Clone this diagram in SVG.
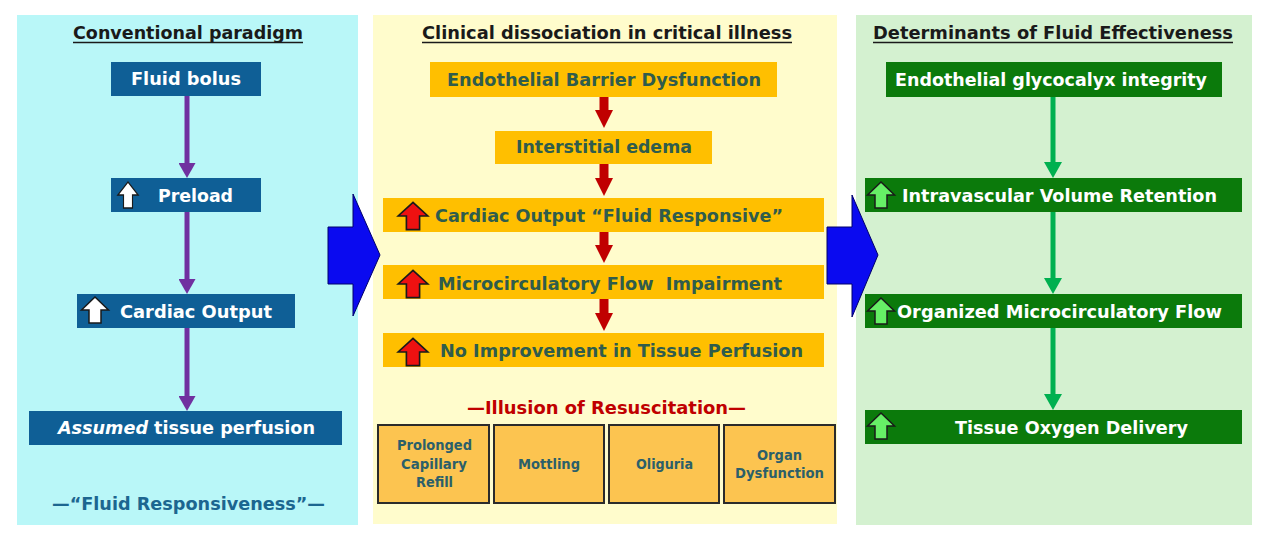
<svg xmlns="http://www.w3.org/2000/svg" xmlns:xlink="http://www.w3.org/1999/xlink" width="1280" height="543" viewBox="0 0 1280 543">
<style>
text{font-family:"DejaVu Sans","Liberation Sans",sans-serif;font-weight:bold;}
.title{font-size:17.5px;fill:#1a1a1a;text-anchor:middle;}
.ul{stroke:#1a1a1a;stroke-width:1.5;}
.nt{font-size:17.5px;fill:#ffffff;text-anchor:middle;}
.ot{font-size:17.5px;fill:#2f5c4c;text-anchor:middle;}
.bt{font-size:13.5px;fill:#2b5f6a;text-anchor:middle;}
.blue{fill:#0f5f96;}
.orange{fill:#ffbf00;}
.green{fill:#0b7a0b;}
.sbox{fill:#fcc450;stroke:#2b2b2b;stroke-width:2;}
.ic{stroke:#1a1a1a;stroke-width:1.5;stroke-linejoin:miter;}
.icw{fill:#ffffff;}
.icr{fill:#ee1111;}
.icg{fill:#66f066;}
.big{fill:#0a0af0;stroke:#00006a;stroke-width:1;}
.cp{stroke:#7030a0;stroke-width:5;fill:none;}
.cr{stroke:#c00000;stroke-width:9;fill:none;}
.cg{stroke:#00b050;stroke-width:5;fill:none;}
</style>
<defs>
<path id="up" d="M0,-13 L13.5,0 L6,0 L6,13 L-6,13 L-6,0 L-13.5,0 Z"/>
<marker id="mp" viewBox="0 0 15 17" markerWidth="15" markerHeight="17" refX="3" refY="8.5" orient="auto" markerUnits="userSpaceOnUse"><path d="M0,0 L15,8.5 L0,17 Z" fill="#7030a0"/></marker>
<marker id="mr" viewBox="0 0 18 18" markerWidth="18" markerHeight="18" refX="3" refY="9" orient="auto" markerUnits="userSpaceOnUse"><path d="M0,0 L18,9 L0,18 Z" fill="#c00000"/></marker>
<marker id="mg" viewBox="0 0 16 18" markerWidth="16" markerHeight="18" refX="3" refY="9" orient="auto" markerUnits="userSpaceOnUse"><path d="M0,0 L16,9 L0,18 Z" fill="#00b050"/></marker>
</defs>
<rect width="1280" height="543" fill="#ffffff"/>

<g id="panels">
<rect x="17" y="15" width="341" height="510" fill="#b9f7f8"/>
<rect x="373" y="15" width="464" height="509" fill="#fffccc"/>
<rect x="856" y="15" width="396" height="510" fill="#d4f1d0"/>
</g>

<g id="titles">
<text class="title" x="188" y="38.5" textLength="230" lengthAdjust="spacingAndGlyphs">Conventional paradigm</text>
<line class="ul" x1="73" y1="42.5" x2="303" y2="42.5"/>
<text class="title" x="607" y="38.5" textLength="370" lengthAdjust="spacingAndGlyphs">Clinical dissociation in critical illness</text>
<line class="ul" x1="422" y1="42.5" x2="792" y2="42.5"/>
<text class="title" x="1053" y="38.5" textLength="360" lengthAdjust="spacingAndGlyphs">Determinants of Fluid Effectiveness</text>
<line class="ul" x1="873" y1="42.5" x2="1233" y2="42.5"/>
</g>

<g id="bigArrows">
<path class="big" d="M328,227 L353,227 L353,194 L380,255 L353,316 L353,284 L328,284 Z"/>
<path class="big" d="M827,227 L852,227 L852,195 L878,255 L852,317 L852,284 L827,284 Z"/>
</g>

<g id="connectors">
<line class="cp" x1="187" y1="96" x2="187" y2="166" marker-end="url(#mp)"/>
<line class="cp" x1="187" y1="212" x2="187" y2="282" marker-end="url(#mp)"/>
<line class="cp" x1="187" y1="328" x2="187" y2="399" marker-end="url(#mp)"/>
<line class="cr" x1="604" y1="97" x2="604" y2="113" marker-end="url(#mr)"/>
<line class="cr" x1="604" y1="164" x2="604" y2="181" marker-end="url(#mr)"/>
<line class="cr" x1="604" y1="232" x2="604" y2="248" marker-end="url(#mr)"/>
<line class="cr" x1="604" y1="299" x2="604" y2="316" marker-end="url(#mr)"/>
<line class="cg" x1="1053" y1="97" x2="1053" y2="165" marker-end="url(#mg)"/>
<line class="cg" x1="1053" y1="212" x2="1053" y2="281" marker-end="url(#mg)"/>
<line class="cg" x1="1053" y1="328" x2="1053" y2="397" marker-end="url(#mg)"/>
</g>

<g id="n-fluid-bolus">
<rect class="blue" x="111" y="62" width="150" height="34"/>
<text class="nt" x="186" y="85" textLength="110" lengthAdjust="spacingAndGlyphs">Fluid bolus</text>
</g>
<g id="n-preload">
<rect class="blue" x="111" y="178" width="150" height="34"/>
<use href="#up" class="ic icw" transform="translate(128,195) scale(0.75,1)"/>
<text class="nt" x="195.5" y="202" textLength="75" lengthAdjust="spacingAndGlyphs">Preload</text>
</g>
<g id="n-cardiac-output">
<rect class="blue" x="77" y="294" width="218" height="34"/>
<use href="#up" class="ic icw" transform="translate(95,310)"/>
<text class="nt" x="196" y="318" textLength="152" lengthAdjust="spacingAndGlyphs">Cardiac Output</text>
</g>
<g id="n-assumed">
<rect class="blue" x="29" y="411" width="313" height="34"/>
<text class="nt" x="58" y="433.5" style="font-style:italic;text-anchor:start" textLength="90" lengthAdjust="spacingAndGlyphs">Assumed</text>
<text class="nt" x="154" y="433.5" style="text-anchor:start" textLength="161" lengthAdjust="spacingAndGlyphs">tissue perfusion</text>
</g>
<g id="n-fluid-responsiveness">
<text x="188.5" y="510" style="font-size:17.5px;fill:#1c6690;text-anchor:middle" textLength="273" lengthAdjust="spacingAndGlyphs">—“Fluid Responsiveness”—</text>
</g>

<g id="n-endothelial-barrier">
<rect class="orange" x="430" y="62" width="347" height="35"/>
<text class="ot" x="604" y="86" textLength="314" lengthAdjust="spacingAndGlyphs">Endothelial Barrier Dysfunction</text>
</g>
<g id="n-interstitial">
<rect class="orange" x="495" y="131" width="217" height="33"/>
<text class="ot" x="604" y="153" textLength="176" lengthAdjust="spacingAndGlyphs">Interstitial edema</text>
</g>
<g id="n-co-responsive">
<rect class="orange" x="383" y="198" width="441" height="34"/>
<use href="#up" class="ic icr" transform="translate(413,216) scale(1.1,1.05)"/>
<text class="ot" x="609" y="222" textLength="348" lengthAdjust="spacingAndGlyphs">Cardiac Output “Fluid Responsive”</text>
</g>
<g id="n-micro-impairment">
<rect class="orange" x="383" y="265" width="441" height="34"/>
<use href="#up" class="ic icr" transform="translate(413,284) scale(1.1,1.05)"/>
<text class="ot" x="610" y="290" textLength="344" lengthAdjust="spacingAndGlyphs">Microcirculatory Flow&#160; Impairment</text>
</g>
<g id="n-no-improvement">
<rect class="orange" x="383" y="333" width="441" height="34"/>
<use href="#up" class="ic icr" transform="translate(413,352) scale(1.1,1.05)"/>
<text class="ot" x="621.5" y="357" textLength="363" lengthAdjust="spacingAndGlyphs">No Improvement in Tissue Perfusion</text>
</g>
<g id="n-illusion">
<text x="606.5" y="414" style="font-size:17.5px;fill:#c00000;text-anchor:middle" textLength="279" lengthAdjust="spacingAndGlyphs">—Illusion of Resuscitation—</text>
</g>
<g id="n-prolonged">
<rect class="sbox" x="378" y="425" width="111" height="78"/>
<text class="bt" x="434.5" y="450" textLength="75" lengthAdjust="spacingAndGlyphs">Prolonged</text>
<text class="bt" x="434" y="468.5" textLength="66" lengthAdjust="spacingAndGlyphs">Capillary</text>
<text class="bt" x="434.5" y="487" textLength="37" lengthAdjust="spacingAndGlyphs">Refill</text>
</g>
<g id="n-mottling">
<rect class="sbox" x="494" y="425" width="110" height="78"/>
<text class="bt" x="549" y="469" textLength="62" lengthAdjust="spacingAndGlyphs">Mottling</text>
</g>
<g id="n-oliguria">
<rect class="sbox" x="609" y="425" width="110" height="78"/>
<text class="bt" x="664.5" y="469" textLength="57" lengthAdjust="spacingAndGlyphs">Oliguria</text>
</g>
<g id="n-organ">
<rect class="sbox" x="724" y="425" width="111" height="78"/>
<text class="bt" x="779.5" y="460" textLength="45" lengthAdjust="spacingAndGlyphs">Organ</text>
<text class="bt" x="779.5" y="478" textLength="89" lengthAdjust="spacingAndGlyphs">Dysfunction</text>
</g>

<g id="n-glycocalyx">
<rect class="green" x="886" y="62" width="336" height="35"/>
<text class="nt" x="1051" y="85.5" textLength="312" lengthAdjust="spacingAndGlyphs">Endothelial glycocalyx integrity</text>
</g>
<g id="n-intravascular">
<rect class="green" x="865" y="178" width="377" height="34"/>
<use href="#up" class="ic icg" transform="translate(881,195)"/>
<text class="nt" x="1059.5" y="202" textLength="315" lengthAdjust="spacingAndGlyphs">Intravascular Volume Retention</text>
</g>
<g id="n-organized">
<rect class="green" x="865" y="294" width="377" height="34"/>
<use href="#up" class="ic icg" transform="translate(881,311)"/>
<text class="nt" x="1059.5" y="318" textLength="325" lengthAdjust="spacingAndGlyphs">Organized Microcirculatory Flow</text>
</g>
<g id="n-tissue-o2">
<rect class="green" x="865" y="410" width="377" height="34"/>
<use href="#up" class="ic icg" transform="translate(881,426)"/>
<text class="nt" x="1071.5" y="433.5" textLength="233" lengthAdjust="spacingAndGlyphs">Tissue Oxygen Delivery</text>
</g>
</svg>
